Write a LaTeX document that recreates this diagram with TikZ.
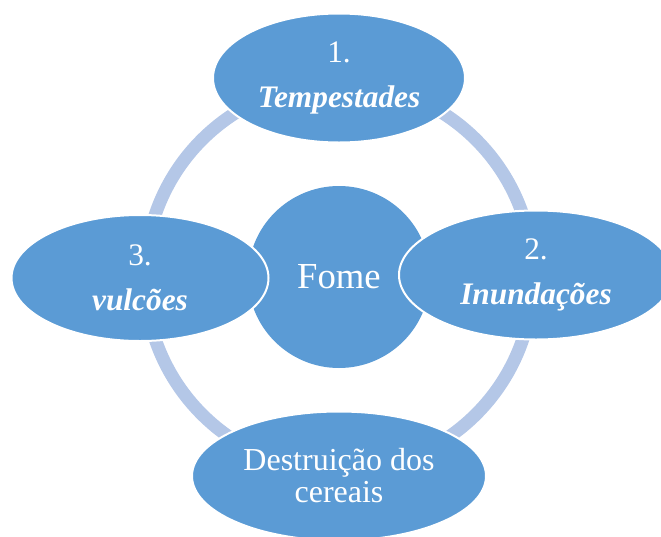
\documentclass[tikz,border=0pt]{standalone}
\usepackage{fontspec}
\setmainfont{Liberation Serif}
\usepackage{tikz}
\usetikzlibrary{shapes.geometric}

\definecolor{bubble}{HTML}{5B9BD5}
\definecolor{ringblue}{HTML}{B4C7E7}

\begin{document}
\begin{tikzpicture}[
      x=0.75pt, y=-0.75pt,
      bubble/.style={
        ellipse, draw=white, line width=1.5pt, fill=bubble,
        inner sep=0pt, align=center, text=white,
        font=\fontsize{23.5}{33.75}\selectfont
      },
      hub/.style={
        circle, fill=bubble, inner sep=0pt, minimum size=136.5pt,
        text=white, font=\fontsize{27.5}{33}\selectfont
      },
      ring/.style={line width=9.75pt, draw=ringblue}
    ]
    \clip (0,0) rectangle (661,536);
    \coordinate (middle) at (339,277);
    \draw[ring] (middle) circle[radius=194];
    \node[hub] (fome) at (middle) {Fome};
    \node[bubble, minimum width=189pt, minimum height=96.75pt] (tempestades)
        at (339,78) {1.\\\textbf{\textit{Tempestades}}};
    \node[bubble, minimum width=205.5pt, minimum height=96.75pt] (inundacoes)
        at (536,275) {2.\\\textbf{\textit{Inundações}}};
    \node[bubble, minimum width=192.75pt, minimum height=94.5pt] (vulcoes)
        at (140,278) {3.\\\textbf{\textit{vulcões}}};
    \node[bubble, minimum width=220.5pt, minimum height=96.75pt,
        font=\fontsize{24}{24}\selectfont] (cereais)
        at (339,476) {Destruição dos\\cereais};
  \end{tikzpicture}
\end{document}
